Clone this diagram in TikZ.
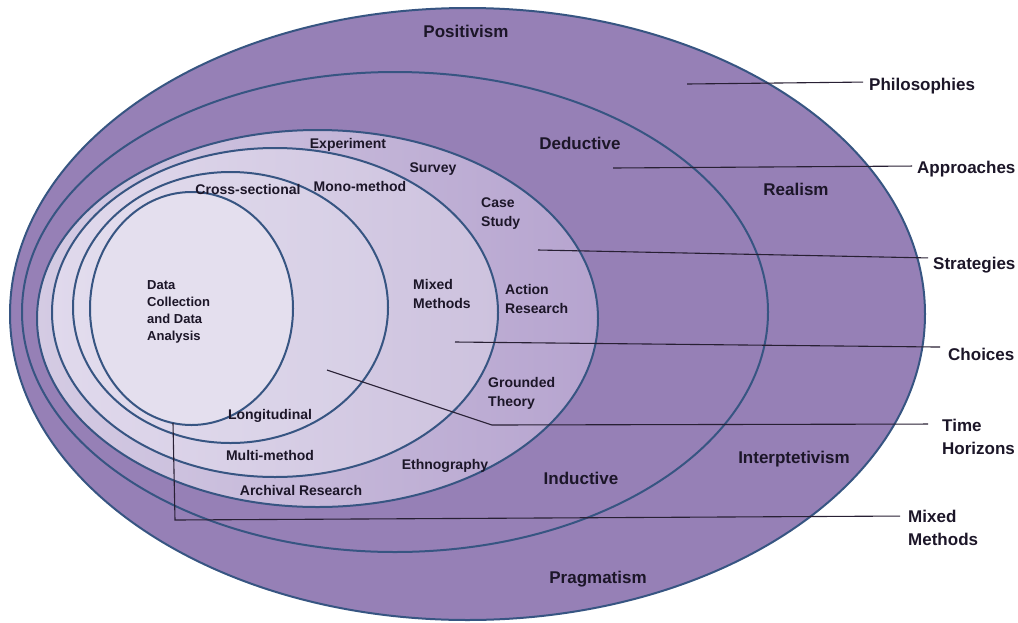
\documentclass[tikz,border=0pt]{standalone}
\usepackage{fontspec}
\setmainfont{Liberation Sans}
\definecolor{outerc}{RGB}{150,128,182}
\definecolor{ringc}{RGB}{55,85,130}
\definecolor{leadc}{RGB}{40,32,52}
\definecolor{txt}{RGB}{28,22,40}
\definecolor{strL}{RGB}{212,203,227}
\definecolor{strR}{RGB}{182,164,207}
\definecolor{choL}{RGB}{224,217,236}
\definecolor{choR}{RGB}{205,194,222}
\definecolor{timL}{RGB}{226,220,237}
\definecolor{timR}{RGB}{214,206,229}
\definecolor{datc}{RGB}{228,223,238}
\begin{document}
\begin{tikzpicture}[x=1pt,y=-1pt,
  ring/.style={draw=ringc, line width=2pt},
  lead/.style={draw=leadc, line width=1.1pt},
  big/.style={font=\fontsize{17}{23}\selectfont\bfseries, text=txt, inner sep=0pt},
  lbl/.style={font=\fontsize{14}{19}\selectfont\bfseries, text=txt, inner sep=0pt},
  dcl/.style={font=\fontsize{13}{17}\selectfont\bfseries, text=txt, inner sep=0pt}]
\useasboundingbox (0,0) rectangle (1018,622);
\fill[white] (0,0) rectangle (1018,622);
% rings
\path[ring, fill=outerc] (467.5,314) ellipse [x radius=457.5pt, y radius=306pt];
\path[ring, fill=outerc] (395,312) ellipse [x radius=373pt, y radius=240pt];
\path[ring, left color=strL, right color=strR] (317.5,318.5) ellipse [x radius=280.5pt, y radius=188.5pt];
\path[ring, left color=choL, right color=choR] (275,312.5) ellipse [x radius=223pt, y radius=164.5pt];
\path[ring, left color=timL, right color=timR] (230.5,307.5) ellipse [x radius=157.5pt, y radius=135.5pt];
\path[ring, fill=datc] (191.5,308.5) ellipse [x radius=101.5pt, y radius=116.5pt];
% labels in rings
\node[big, anchor=base] (pos) at (466,37.5) {Positivism};
\node[big, anchor=base] (ded) at (580,149) {Deductive};
\node[big, anchor=base] (rea) at (796,195) {Realism};
\node[big, anchor=base] (int) at (794,463) {Interptetivism};
\node[big, anchor=base] (ind) at (581,484) {Inductive};
\node[big, anchor=base] (pra) at (598,583) {Pragmatism};
\node[lbl, anchor=base] (exp) at (348,148) {Experiment};
\node[lbl, anchor=base] (sur) at (433,172) {Survey};
\node[lbl, anchor=base] (mono) at (360,191) {Mono-method};
\node[lbl, anchor=base] (cro) at (248,194) {Cross-sectional};
\node[lbl, anchor=west, align=left] (cas) at (481,213.5) {Case\\Study};
\node[lbl, anchor=west, align=left] (mix) at (413,293.5) {Mixed\\Methods};
\node[lbl, anchor=west, align=left] (act) at (505,298.5) {Action\\Research};
\node[lbl, anchor=west, align=left] (gro) at (488,393.5) {Grounded\\Theory};
\node[lbl, anchor=base] (lon) at (270,419) {Longitudinal};
\node[lbl, anchor=base] (mul) at (270,460) {Multi-method};
\node[lbl, anchor=base] (eth) at (445,469) {Ethnography};
\node[lbl, anchor=base] (arc) at (301,495) {Archival Research};
\node[dcl, anchor=west, align=left] (dat) at (147,312) {Data\\Collection\\and Data\\Analysis};
% outside labels
\node[big, anchor=base west] (phi) at (869,90) {Philosophies};
\node[big, anchor=base west] (app) at (917,173) {Approaches};
\node[big, anchor=base west] (str) at (933,269) {Strategies};
\node[big, anchor=base west] (cho) at (948,360) {Choices};
\node[big, anchor=west, align=left] (tim) at (942,437.4) {Time\\Horizons};
\node[big, anchor=west, align=left] (mmr) at (908,528.3) {Mixed\\Methods};
% leaders
\coordinate (p1) at (687,84);
\coordinate (a1) at (613,168);
\coordinate (s1) at (538,250);
\coordinate (c1) at (455,342);
\coordinate (t1) at (327,370);
\coordinate (t2) at (492,425);
\coordinate (m1) at (173,423);
\coordinate (m2) at (175,520);
\draw[lead, shorten >=6pt] (p1) -- ([yshift=3.6pt]phi.west);
\draw[lead, shorten >=5pt] (a1) -- ([yshift=2.6pt]app.west);
\draw[lead, shorten >=5pt] (s1) -- ([yshift=6.6pt]str.west);
\draw[lead, shorten >=8pt] (c1) -- ([yshift=6.8pt]cho.west);
\draw[lead, shorten >=14pt] (t1) -- (t2) -- ([yshift=13.4pt]tim.west);
\draw[lead, shorten >=8pt] (m1) -- (m2) -- ([yshift=12.3pt]mmr.west);
\end{tikzpicture}
\end{document}
